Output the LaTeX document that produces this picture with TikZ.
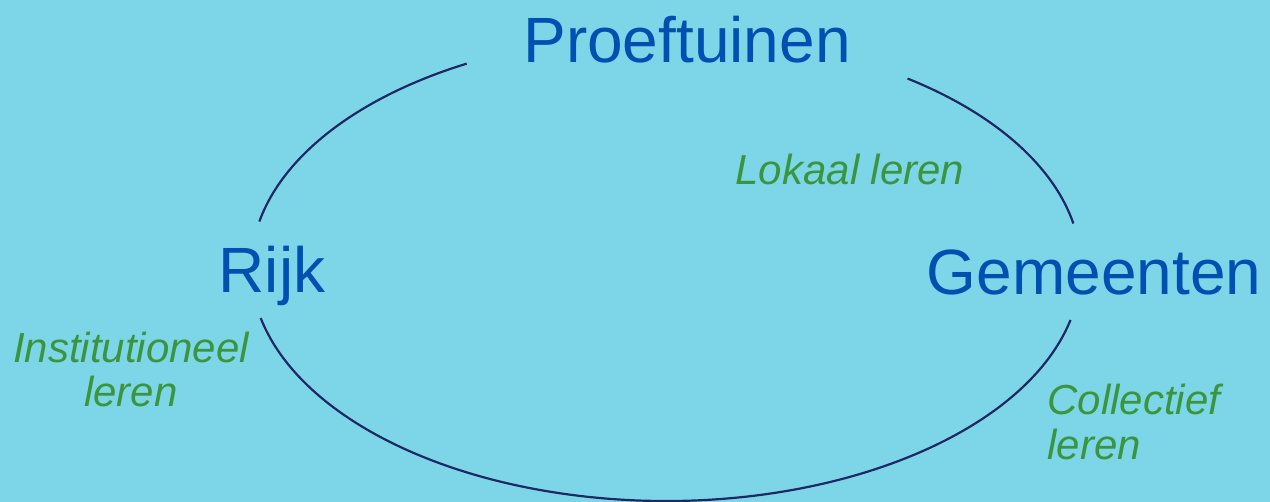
\documentclass[tikz,border=0pt]{standalone}
\usepackage{fontspec}
\setmainfont{Liberation Sans}
\usetikzlibrary{calc}

\definecolor{bgblue}{RGB}{125,214,232}
\definecolor{actorblue}{RGB}{0,80,178}
\definecolor{learngreen}{RGB}{58,150,62}
\definecolor{ringnavy}{RGB}{30,40,100}

\tikzset{
  actor/.style = {text=actorblue, font=\fontsize{32}{36}\selectfont, inner sep=0pt, anchor=base},
  learn/.style = {text=learngreen, font=\fontsize{21}{22}\selectfont\itshape, inner sep=0pt, anchor=base},
  ring/.style  = {draw=ringnavy, line width=1.1pt},
}

\begin{document}
\begin{tikzpicture}[x=0.5pt, y=0.5pt]
        \path[fill=bgblue, use as bounding box] (0,0) rectangle (1270,502) ; %
        %
        \node[actor] (proef) at (687,439) {Proeftuinen} ; %
        \node[actor] (rijk) at (272,209) {Rijk} ; %
        \node[actor] (gem) at (1094,207) {Gemeenten} ; %
        \node[learn] (lokaal) at (850,317) {Lokaal leren} ; %
        \node[learn, align=center] (inst) at (131,95) {Institutioneel\\leren} ; %
        \node[learn, align=left, anchor=base west] (coll) at (1047,42) {Collectief\\[0.5pt]leren} ; %
        %
        \coordinate (mid) at (666,234) ; %
        \coordinate (rijk_n) at ($(mid)+(168.5:207.5pt and 116.5pt)$) ; %
        \coordinate (gem_n) at ($(mid)+(54.4:207.5pt and 116.5pt)$) ; %
        \coordinate (gem_s) at ($(mid)+(-12.9:207.5pt and 116.5pt)$) ; %
        %
        \draw[ring] (rijk_n) arc[start angle=168.5, end angle=118.7, x radius=207.5pt, y radius=116.5pt] ; %
        \draw[ring] (gem_n) arc[start angle=54.4, end angle=11, x radius=207.5pt, y radius=116.5pt] ; %
        \draw[ring] (gem_s) arc[start angle=-12.9, end angle=-167.6, x radius=207.5pt, y radius=116.5pt] ; %
\end{tikzpicture}
\end{document}
